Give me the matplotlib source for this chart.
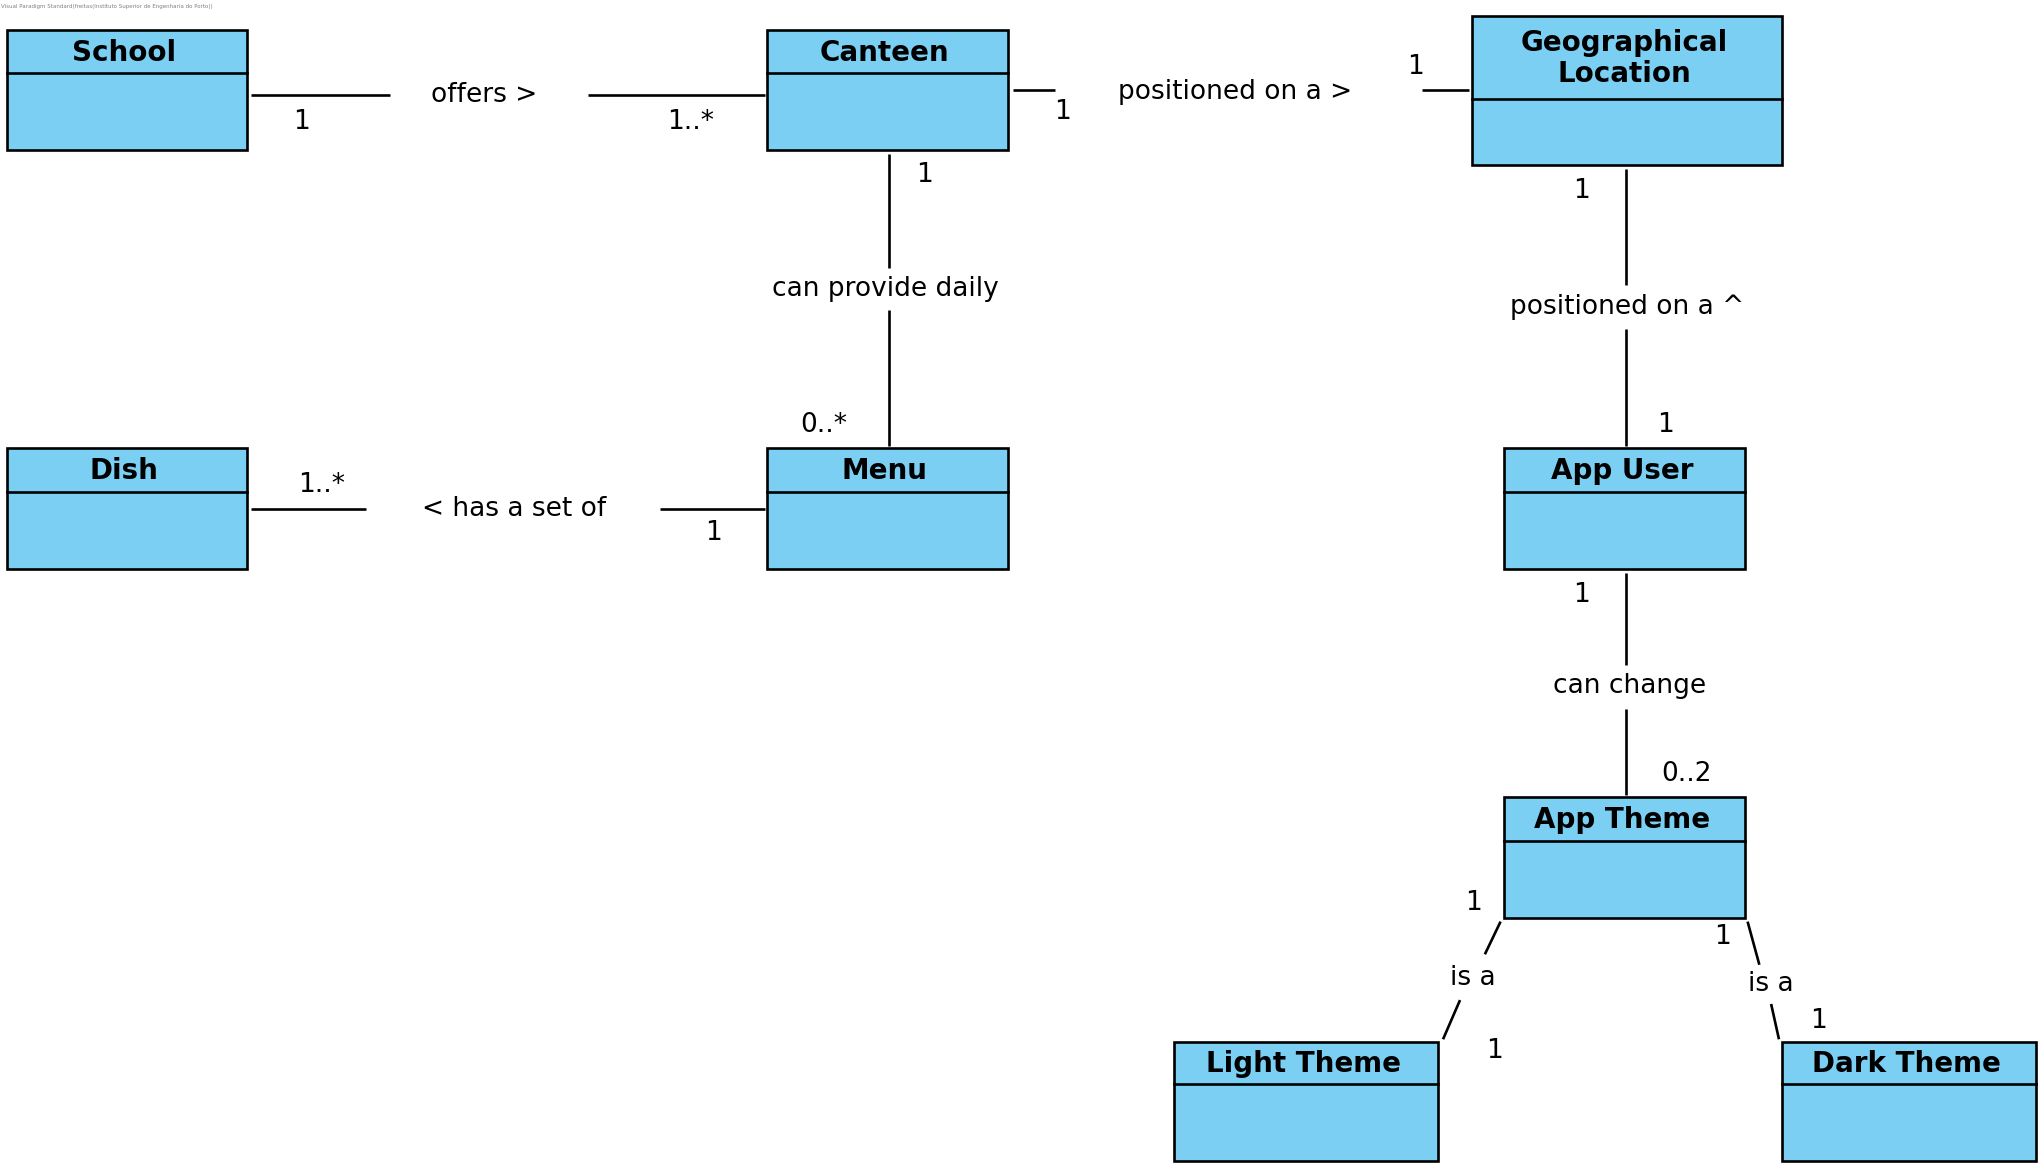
import matplotlib
matplotlib.use("Agg")
import matplotlib.pyplot as plt
from matplotlib.patches import Rectangle

# class boxes: name, left, top, right, bottom, header line y (diagram units, y down)
classes = ["School", "Canteen", "Geographical\nLocation", "Dish", "Menu",
           "App User", "App Theme", "Light Theme", "Dark Theme"]
box_left = [5, 587, 1126, 5, 587, 1151, 1151, 898, 1363]
box_top = [23, 23, 12, 343, 343, 343, 610, 797, 797]
box_right = [189, 771, 1363, 189, 771, 1335, 1335, 1100, 1558]
box_bottom = [115, 115, 126, 435, 435, 435, 702, 888, 888]
box_header = [56, 56, 76, 376, 376, 376, 643, 829, 829]

# associations: label, label pos, two line segments
assoc_labels = ["offers >", "positioned on a >", "can provide daily", "< has a set of",
                "positioned on a ^", "can change", "is a", "is a"]
assoc_label_xy = [(370, 73), (945, 70), (677, 221), (393, 389),
                  (1245, 235), (1247, 525), (1127, 748), (1355, 753)]
assoc_segments = [
    [((192, 73), (298, 73)), ((450, 73), (585, 73))],
    [((775, 69), (807, 69)), ((1088, 69), (1124, 69))],
    [((680, 118), (680, 205)), ((680, 237), (680, 341))],
    [((192, 389), (280, 389)), ((505, 389), (585, 389))],
    [((1244, 129), (1244, 218)), ((1244, 252), (1244, 341))],
    [((1244, 438), (1244, 509)), ((1244, 542), (1244, 608))],
    [((1148, 705), (1136, 730)), ((1117, 765), (1104, 795))],
    [((1337, 705), (1346, 738)), ((1355, 768), (1361, 795))],
]

# multiplicities
mult_text = ["1", "1..*", "1", "1", "1", "0..*", "1..*", "1",
             "1", "1", "1", "0..2", "1", "1", "1", "1"]
mult_xy = [(231, 93), (528, 93), (813, 86), (1083, 51), (707, 134), (630, 325),
           (246, 371), (546, 408), (1210, 146), (1274, 325), (1210, 455), (1290, 592),
           (1127, 691), (1143, 804), (1318, 717), (1391, 781)]

fill = "#7ACFF3"
lw = 1.9

fig = plt.figure(figsize=(20.43, 11.70), dpi=100)
ax = fig.add_axes([0, 0, 1, 1])
ax.set_xlim(0, 1563)
ax.set_ylim(895, 0)
ax.axis("off")

for name, l, t, r, b, h in zip(classes, box_left, box_top, box_right, box_bottom, box_header):
    ax.add_patch(Rectangle((l, t), r - l, b - t, facecolor=fill, edgecolor="black", lw=lw))
    ax.plot([l, r], [h, h], color="black", lw=lw)
    ax.text((l + r) / 2 - 2, (t + h) / 2 + 1, name, ha="center", va="center",
            fontsize=20, fontweight="bold", linespacing=1.15)

for label, (x, y), segs in zip(assoc_labels, assoc_label_xy, assoc_segments):
    for (x0, y0), (x1, y1) in segs:
        ax.plot([x0, x1], [y0, y1], color="black", lw=lw, solid_capstyle="butt")
    ax.text(x, y, label, ha="center", va="center", fontsize=19)

for txt, (x, y) in zip(mult_text, mult_xy):
    ax.text(x, y, txt, ha="center", va="center", fontsize=19)

ax.text(1, 5, "Visual Paradigm Standard(freitas(Instituto Superior de Engenharia do Porto))",
        ha="left", va="center", fontsize=4, color="gray")

fig.savefig("out.png", dpi=100)
